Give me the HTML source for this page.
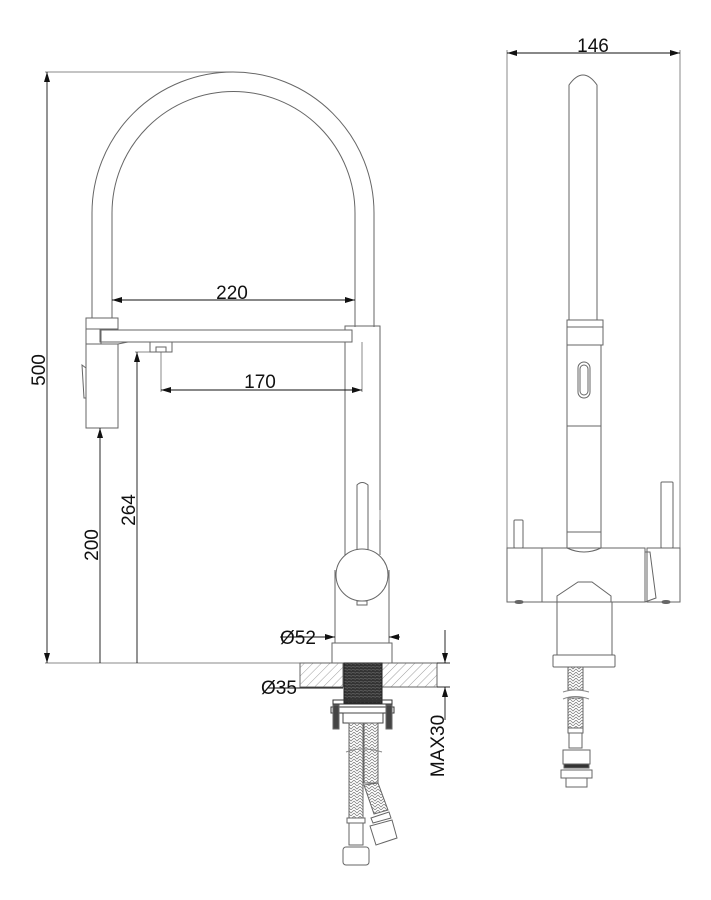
<!DOCTYPE html>
<html><head><meta charset="utf-8"><style>
html,body{margin:0;padding:0;background:#fff}
svg{display:block}
text{font-family:"Liberation Sans",Arial,sans-serif;font-size:19px;fill:#111}
</style></head><body>
<svg width="711" height="900" viewBox="0 0 711 900" xmlns="http://www.w3.org/2000/svg">
<defs>
<pattern id="hatch" width="6" height="6" patternUnits="userSpaceOnUse" patternTransform="rotate(45)">
<line x1="0" y1="0" x2="0" y2="6" stroke="#888" stroke-width="0.8"/></pattern>
<pattern id="braid" width="6" height="6" patternUnits="userSpaceOnUse">
<path d="M0 0 L3 3 L6 0 M0 3 L3 6 L6 3" stroke="#777" stroke-width="0.7" fill="none"/></pattern>
<pattern id="thread" width="4" height="3" patternUnits="userSpaceOnUse">
<rect width="4" height="3" fill="#333"/><line x1="0" y1="0.5" x2="4" y2="1.2" stroke="#777" stroke-width="0.6"/></pattern>
<marker id="a" viewBox="0 0 10 6" refX="10" refY="3" markerWidth="10" markerHeight="6" orient="auto-start-reverse" markerUnits="userSpaceOnUse"><path d="M0 0 L10 3 L0 6 z" fill="#111"/></marker>
</defs>
<g fill="none" stroke="#666" stroke-width="1">
<line x1="45" y1="72" x2="232" y2="72" stroke="#888"/>
<line x1="45" y1="663" x2="345" y2="663" stroke="#888"/>
<line x1="135" y1="352" x2="152" y2="352" stroke="#888"/>
<line x1="161" y1="352" x2="161" y2="392" stroke="#888"/>
<line x1="362" y1="342" x2="362" y2="392" stroke="#888"/>
<path d="M92 318 L92 213 A141 141 0 0 1 374 213 L374 327"/>
<path d="M112 318 L112 213 A121.5 121.5 0 0 1 355 213 L355 327"/>
<rect x="100" y="330" width="252" height="12"/>
<path d="M345 330 L345 326 L380 326 L380 555"/>
<line x1="345" y1="342" x2="345" y2="555"/>
<rect x="86" y="318" width="32" height="11"/>
<rect x="86" y="329" width="15" height="15"/>
<path d="M101 344 L118 344 L128 342"/>
<rect x="86" y="344" width="32" height="84"/>
<path d="M82 365 L86 368 L86 398 L84 398 Z"/>
<rect x="150" y="342" width="22" height="10"/>
<rect x="156" y="347" width="10" height="5"/>
<path d="M357 550 L357 485 Q362 480 368 485 L368 550"/>
<line x1="380" y1="510" x2="380" y2="520" stroke="#999"/>
<line x1="335" y1="570" x2="335" y2="643"/>
<line x1="389" y1="570" x2="389" y2="643"/>
<circle cx="362" cy="575" r="26"/>
<rect x="357" y="601" width="10" height="4"/>
<rect x="332" y="643" width="60" height="20"/>
<rect x="300" y="663" width="43" height="24" fill="url(#hatch)"/>
<rect x="382" y="663" width="55" height="24" fill="url(#hatch)"/>
<rect x="344" y="663" width="38" height="40" fill="url(#thread)" stroke="#222"/>
<rect x="333" y="700" width="59" height="4" stroke="#333"/>
<rect x="331" y="707" width="63" height="6" stroke="#333"/>
<rect x="333" y="705" width="6" height="24" fill="#444"/>
<rect x="386" y="705" width="6" height="24" fill="#444"/>
<rect x="343" y="713" width="40" height="10" stroke="#444"/>
<rect x="349" y="723" width="14" height="95" fill="url(#braid)"/>
<rect x="364" y="723" width="14" height="60" fill="url(#braid)"/>
<path d="M378 783 L388 810 L374 814 L364 785 Z" fill="url(#braid)"/>
<path d="M346 752 Q362 746 382 752" stroke="#888"/>
<rect x="347" y="818" width="18" height="5"/>
<rect x="349" y="823" width="14" height="22"/>
<rect x="343" y="847" width="26" height="18" rx="3"/>
<path d="M371 818 L389 812 L391 818 L373 823 Z"/>
<path d="M370 826 L392 820 L397 838 L376 845 Z"/>
<line x1="507" y1="50" x2="507" y2="560" stroke="#888"/>
<line x1="680" y1="50" x2="680" y2="560" stroke="#888"/>
<path d="M569 320 L569 85 Q583 65 597 85 L597 320"/>
<rect x="567" y="320" width="36" height="7"/>
<rect x="567" y="327" width="36" height="18"/>
<rect x="567" y="345" width="34" height="81"/>
<rect x="578" y="362" width="12" height="36" rx="6"/>
<rect x="580" y="365" width="8" height="30" rx="4"/>
<path d="M567 426 L567 548 M601 426 L601 548"/>
<path d="M567 532 L601 532"/>
<path d="M567 548 Q584 556 601 548"/>
<rect x="514" y="520" width="9" height="28" rx="1"/>
<rect x="661" y="482" width="12" height="66" rx="1"/>
<rect x="507" y="548" width="35" height="54"/>
<rect x="542" y="548" width="103" height="54"/>
<rect x="647" y="548" width="33" height="54"/>
<path d="M645 552 L650 552 L656 598 L645 602"/>
<path d="M557 602 L557 596 L578 582 L592 582 L611 596 L611 602" />
<rect x="557" y="602" width="55" height="53"/>
<rect x="553" y="655" width="62" height="12" rx="1"/>
<ellipse cx="519" cy="602" rx="4" ry="1.5" fill="#666"/>
<ellipse cx="666" cy="602" rx="4" ry="1.5" fill="#666"/>
<rect x="568" y="667" width="15" height="23" fill="url(#braid)"/>
<rect x="568" y="698" width="15" height="30" fill="url(#braid)"/>
<path d="M563 692 Q575 688 589 692 M563 699 Q575 694 589 699" stroke="#888"/>
<rect x="568" y="728" width="15" height="5"/>
<rect x="569" y="733" width="13" height="15"/>
<rect x="563" y="750" width="27" height="14"/>
<rect x="564" y="764" width="25" height="4" fill="#333"/>
<rect x="561" y="770" width="31" height="8"/>
<rect x="566" y="778" width="21" height="9"/>
</g>
<g stroke="#111" stroke-width="0.9" fill="none">
<line x1="47" y1="72" x2="47" y2="663" marker-start="url(#a)" marker-end="url(#a)"/>
<line x1="100" y1="428" x2="100" y2="663" marker-start="url(#a)"/>
<line x1="137" y1="352" x2="137" y2="663" marker-start="url(#a)"/>
<line x1="112" y1="300" x2="355" y2="300" marker-start="url(#a)" marker-end="url(#a)"/>
<line x1="161" y1="390" x2="362" y2="390" marker-start="url(#a)" marker-end="url(#a)"/>
<line x1="280" y1="637" x2="335" y2="637" marker-end="url(#a)"/>
<line x1="389" y1="637" x2="400" y2="637" marker-start="url(#a)"/>
<line x1="268" y1="688" x2="343" y2="688"/>
<line x1="437" y1="663" x2="450" y2="663"/>
<line x1="437" y1="687" x2="450" y2="687"/>
<line x1="445" y1="630" x2="445" y2="663" marker-end="url(#a)"/>
<line x1="445" y1="687" x2="445" y2="720" marker-start="url(#a)"/>
<line x1="507" y1="53" x2="680" y2="53" marker-start="url(#a)" marker-end="url(#a)"/>
</g>
<text x="232" y="299" text-anchor="middle">220</text>
<text x="260" y="388" text-anchor="middle">170</text>
<text x="280" y="644">Ø52</text>
<text x="261" y="694">Ø35</text>
<text x="593" y="52" text-anchor="middle">146</text>
<text transform="translate(45,370) rotate(-90)" text-anchor="middle">500</text>
<text transform="translate(98,545) rotate(-90)" text-anchor="middle">200</text>
<text transform="translate(135,510) rotate(-90)" text-anchor="middle">264</text>
<text transform="translate(444,746) rotate(-90)" text-anchor="middle">MAX30</text>
</svg>
</body></html>
